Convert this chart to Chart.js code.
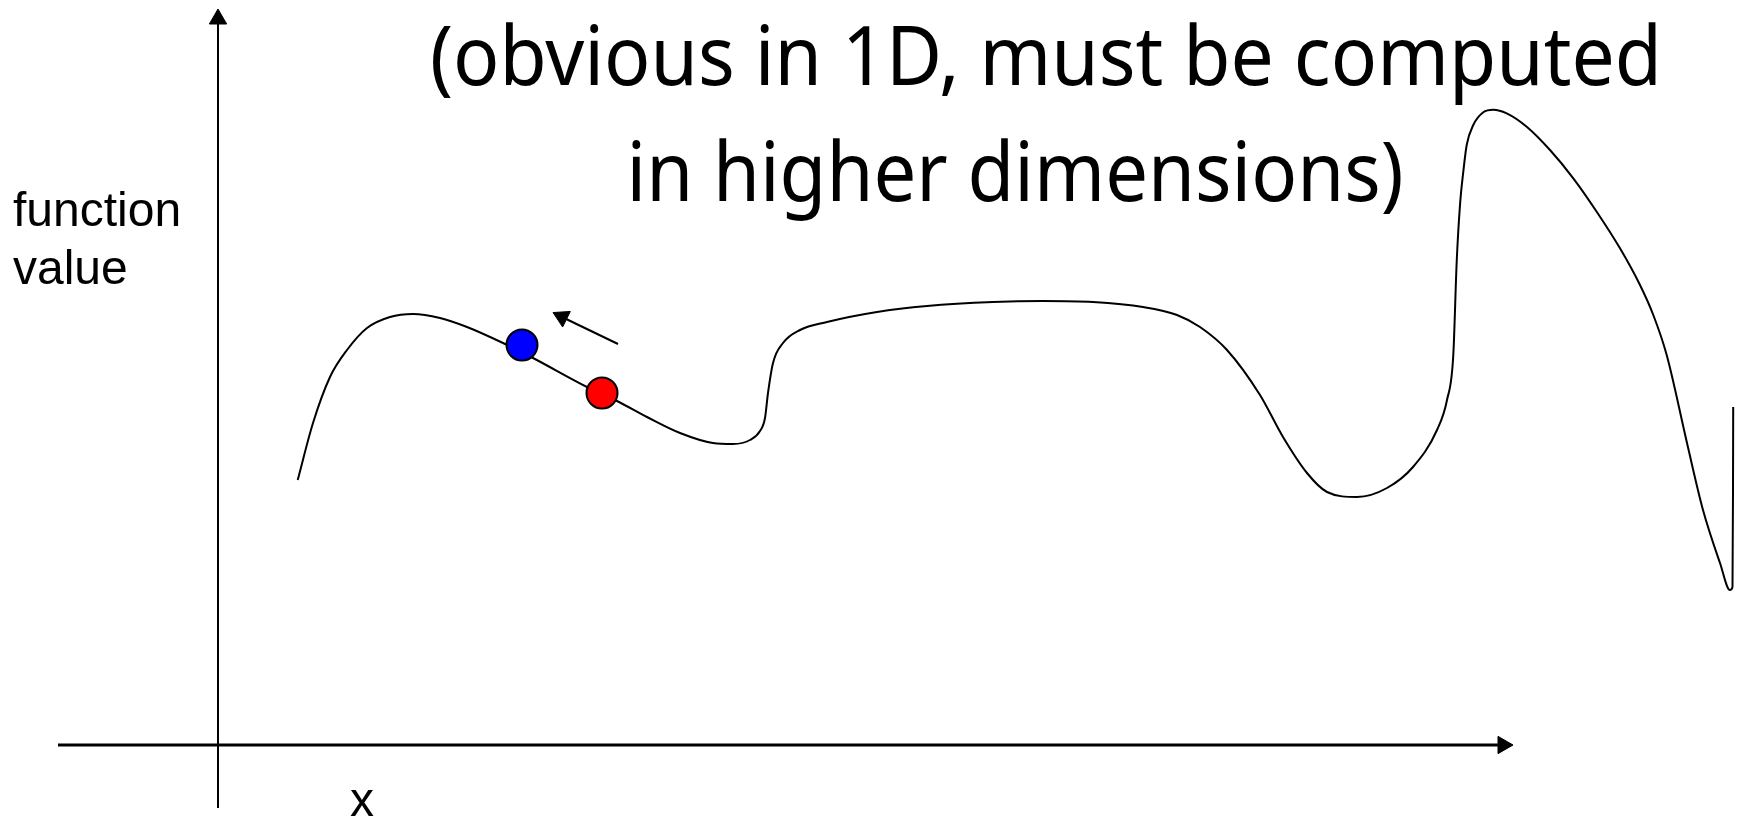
<!DOCTYPE html>
<html>
<head>
<meta charset="utf-8">
<title>gradient step</title>
<script src="https://cdn.jsdelivr.net/npm/chart.js@4.4.1/dist/chart.umd.min.js"></script>
<style>
  html, body { margin: 0; padding: 0; background: #ffffff; }
  canvas { display: block; }
</style>
</head>
<body>
<canvas id="stepChart" width="1738" height="820"></canvas>
<script>
// texts on the slide
var titleLines = ['(obvious in 1D, must be computed', 'in higher dimensions)'];
var yLabelLines = ['function', 'value'];
var xLabel = 'x';

// the function (x to the right, function value up)
var curveX = [7.97, 9.5, 11.2, 12.9, 14.9, 17.2, 19.5, 22.2, 24.9, 28.5,
              31.5, 36.9, 39.9, 42.9, 46.2, 49.5, 51.5, 53.2, 54.2, 54.7,
              55.0, 55.5, 56.5, 58.2, 60.9, 65.9, 70.9, 77.5, 82.5, 87.5,
              92.5, 95.9, 98.2, 100.9, 104.2, 106.5, 108.9, 110.9, 113.9,
              116.9, 119.5, 121.9, 122.9, 123.53, 123.87, 124.2, 124.53, 124.87, 125.53,
              126.53, 127.53, 128.87, 130.87, 133.2, 135.53, 137.87, 140.2, 142.2, 143.53,
              144.87, 146.9, 148.5, 150.2, 151.2, 151.45, 151.5, 151.52];
var curveY = [26.5, 32.2, 36.8, 39.5, 41.7, 42.8, 43.1, 42.7, 41.8, 40.2,
              38.7, 35.8, 34.4, 32.8, 31.2, 30.2, 30.1, 30.5, 31.4, 32.7,
              35.2, 38.2, 40.2, 41.5, 42.3, 43.3, 43.9, 44.3, 44.4, 44.3,
              43.8, 43.0, 41.8, 39.5, 35.0, 30.8, 27.2, 25.3, 24.8,
              25.7, 27.8, 31.5, 34.5, 39.0, 48.33, 54.0, 57.33, 60.0, 62.0,
              63.27, 63.53, 63.17, 61.83, 59.5, 56.67, 53.33, 49.67, 46.0, 43.0,
              39.0, 30.2, 23.5, 18.2, 15.5, 15.8, 25.5, 33.8];

// blue = next point, red = current point
var dotX = [30.4, 38.4];
var dotY = [40.0, 35.2];
var dotColors = ['#0000ff', '#ff0000'];

// axes (the last point carries the arrow head)
var xAxisX = [-16.0, 128.5];
var xAxisY = [0, 0];
var yAxisX = [0, 0];
var yAxisY = [-6.3, 72.6];

// small arrow: step direction
var stepX = [40.0, 34.4];
var stepY = [40.1, 42.8];

function toXY(xs, ys) {
    var out = [];
    for (var i = 0; i < xs.length; i++) {
        out.push({ x: xs[i], y: ys[i] });
    }
    return out;
}

// free text of the slide, placed in data units
var slideText = {
    id: 'slideText',
    afterDatasetsDraw: function (chart, args, opts) {
        var ctx = chart.ctx;
        var sx = chart.scales.x;
        var sy = chart.scales.y;
        ctx.save();
        ctx.fillStyle = '#000000';
        ctx.textBaseline = 'alphabetic';
        opts.items.forEach(function (it) {
            ctx.font = it.font;
            ctx.textAlign = it.align;
            var px = sx.getPixelForValue(it.x);
            var py = sy.getPixelForValue(it.y);
            if (it.maxWidth) {
                ctx.fillText(it.text, px, py, it.maxWidth);
            } else {
                ctx.fillText(it.text, px, py);
            }
        });
        ctx.restore();
    }
};

var titleFont = '82px "Noto Sans"';
var labelFont = '48px "Liberation Sans", Arial, sans-serif';

function arrowLine(xs, ys, width, rotation) {
    return {
        data: toXY(xs, ys),
        borderColor: '#000000',
        borderWidth: width,
        tension: 0,
        pointStyle: 'triangle',
        pointRotation: rotation,
        pointRadius: [0, 10],
        pointBackgroundColor: '#000000',
        pointBorderColor: '#000000',
        pointBorderWidth: 1,
        fill: false
    };
}

new Chart(document.getElementById('stepChart'), {
    type: 'line',
    data: {
        datasets: [
            {
                label: 'points',
                data: toXY(dotX, dotY),
                showLine: false,
                pointRadius: 15.5,
                pointBackgroundColor: dotColors,
                pointBorderColor: '#000000',
                pointBorderWidth: 2
            },
            {
                label: 'f',
                data: toXY(curveX, curveY),
                borderColor: '#000000',
                borderWidth: 2,
                cubicInterpolationMode: 'monotone',
                pointRadius: 0,
                fill: false
            },
            arrowLine(stepX, stepY, 2, -63.6),
            arrowLine(xAxisX, xAxisY, 3, 90),
            arrowLine(yAxisX, yAxisY, 2, 0)
        ]
    },
    options: {
        responsive: false,
        animation: false,
        events: [],
        layout: { padding: 0, autoPadding: false },
        scales: {
            x: { type: 'linear', min: -21.8, max: 152.0, display: false },
            y: { type: 'linear', min: -7.5, max: 74.5, display: false }
        },
        plugins: {
            legend: { display: false },
            tooltip: { enabled: false },
            slideText: {
                items: [
                    { text: titleLines[0], x: 82.8, y: 66.0, font: titleFont, align: 'center', maxWidth: 1232 },
                    { text: titleLines[1], x: 79.7, y: 54.4, font: titleFont, align: 'center', maxWidth: 777 },
                    { text: yLabelLines[0], x: -20.5, y: 51.9, font: labelFont, align: 'left' },
                    { text: yLabelLines[1], x: -20.5, y: 46.1, font: labelFont, align: 'left' },
                    { text: xLabel, x: 13.2, y: -7.1, font: labelFont, align: 'left' }
                ]
            }
        }
    },
    plugins: [slideText]
});
</script>
</body>
</html>
